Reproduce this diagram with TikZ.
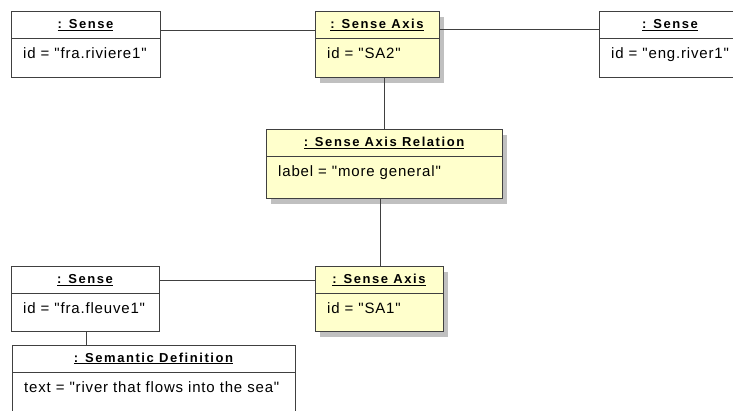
\documentclass[tikz,border=0pt]{standalone}
\usepackage{fontspec}
\setmainfont{Liberation Sans}
\newfontfamily\attrfont[LetterSpace=5.5]{Liberation Sans}
\newfontfamily\headfont[LetterSpace=12]{Liberation Sans}
\usetikzlibrary{shadows}
\definecolor{objyellow}{RGB}{255,255,204}
\definecolor{objline}{RGB}{64,64,64}
\definecolor{objshadow}{RGB}{192,192,192}
\tikzset{
  objbox/.style={draw=objline, line width=1pt, fill=white, inner sep=0pt, outer sep=0pt, anchor=north west},
  axisbox/.style={objbox, fill=objyellow, drop shadow={shadow xshift=5pt, shadow yshift=-5pt, fill=objshadow, opacity=1}},
  objhead/.style={font=\headfont\fontsize{13}{15}\selectfont\bfseries, inner sep=0pt, text height=9pt, text depth=2pt},
  objattr/.style={font=\attrfont\fontsize{15}{17}\selectfont, inner sep=0pt, anchor=west, text height=11pt, text depth=3pt},
  link/.style={draw=objline, line width=1pt}
}
\begin{document}
\begin{tikzpicture}[x=1pt,y=-1pt]
  \useasboundingbox (0,0) rectangle (733,411);
  \clip (0,0) rectangle (733,411);
  % objects
  \node[objbox, minimum width=149pt, minimum height=66pt] (senseFr) at (11,12) {};
  \node[axisbox, minimum width=124pt, minimum height=66pt] (axisTwo) at (315,12) {};
  \node[objbox, minimum width=142pt, minimum height=66pt] (senseEn) at (599,12) {};
  \node[axisbox, minimum width=236pt, minimum height=69pt] (axisRel) at (266,130) {};
  \node[objbox, minimum width=148pt, minimum height=65pt] (senseFl) at (11,267) {};
  \node[axisbox, minimum width=128pt, minimum height=65pt] (axisOne) at (315,267) {};
  \node[objbox, minimum width=283pt, minimum height=80pt] (semDef) at (12,345) {};
  % compartments
  \foreach \b/\h/\a in {senseFr/{: Sense}/{id = "fra.riviere1"},
      axisTwo/{: Sense Axis}/{id = "SA2"},
      senseEn/{: Sense}/{id = "eng.river1"},
      axisRel/{: Sense Axis Relation}/{label = "more general"},
      senseFl/{: Sense}/{id = "fra.fleuve1"},
      axisOne/{: Sense Axis}/{id = "SA1"},
      semDef/{: Semantic Definition}/{text = "river that flows into the sea"}} {
    \draw[link] ([yshift=-27pt]\b.north west) -- ([yshift=-27pt]\b.north east);
    \node[objhead] (\b-head) at ([yshift=-13.5pt]\b.north) {\underline{\h}};
    \node[objattr] (\b-attr) at ([xshift=12pt,yshift=-43pt]\b.north west) {\a};
  }
  % links
  \draw[link] ([yshift=-19pt]senseFr.north east) -- ([yshift=-19pt]axisTwo.north west);
  \draw[link] ([yshift=-18pt]axisTwo.north east) -- ([yshift=-18pt]senseEn.north west);
  \draw[link] ([xshift=69pt]axisTwo.south west) -- ([xshift=118pt]axisRel.north west);
  \draw[link] ([xshift=114pt]axisRel.south west) -- ([xshift=65pt]axisOne.north west);
  \draw[link] ([yshift=-14pt]senseFl.north east) -- ([yshift=-14pt]axisOne.north west);
  \draw[link] ([xshift=75pt]senseFl.south west) -- ([xshift=74pt]semDef.north west);
\end{tikzpicture}
\end{document}
